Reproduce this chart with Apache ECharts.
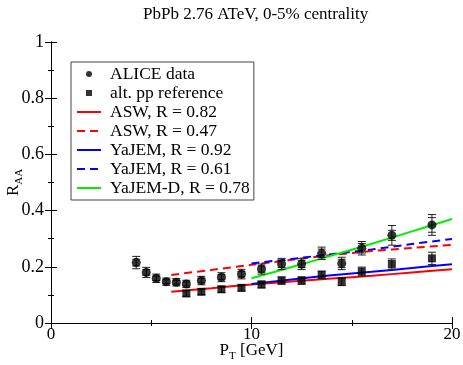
<!DOCTYPE html>
<html>
<head>
<meta charset="utf-8">
<script src="https://cdn.jsdelivr.net/npm/echarts@6/dist/echarts.min.js"></script>
<style>
    html, body { margin: 0; padding: 0; background: #fff; }
    #chart { width: 463px; height: 365px; }
</style>
</head>
<body>
<div id="chart"></div>
<script>
// ALICE data points (pT, R_AA, total error, stat error)
let aliceX = [4.25, 4.75, 5.25, 5.75, 6.25, 6.75, 7.5, 8.5, 9.5, 10.5, 11.5, 12.5, 13.5, 14.5, 15.5, 17, 19]
let aliceY = [0.215, 0.180, 0.159, 0.147, 0.145, 0.139, 0.151, 0.163, 0.174, 0.192, 0.210, 0.210, 0.248, 0.212, 0.266, 0.312, 0.349]
let aliceErr = [0.022, 0.018, 0.015, 0.013, 0.013, 0.013, 0.015, 0.016, 0.017, 0.018, 0.020, 0.020, 0.022, 0.022, 0.024, 0.035, 0.037]
let aliceStat = [0.012, 0.010, 0.008, 0.007, 0.007, 0.007, 0.008, 0.009, 0.010, 0.011, 0.012, 0.013, 0.015, 0.015, 0.017, 0.018, 0.026]

// alternative pp reference
let ppX = [6.75, 7.5, 8.5, 9.5, 10.5, 11.5, 12.5, 13.5, 14.5, 15.5, 17, 19]
let ppY = [0.105, 0.111, 0.120, 0.125, 0.137, 0.151, 0.151, 0.171, 0.147, 0.183, 0.210, 0.230]
let ppErr = [0.010, 0.010, 0.011, 0.011, 0.012, 0.013, 0.013, 0.014, 0.014, 0.016, 0.018, 0.022]

// model curves
let aswX = [6, 8, 10, 12, 14, 16, 18, 20]
let aswSolid = [0.111, 0.124, 0.137, 0.148, 0.158, 0.168, 0.180, 0.191]
let aswDashed = [0.171, 0.189, 0.207, 0.225, 0.242, 0.256, 0.267, 0.278]
let yajemX = [10, 12, 14, 16, 18, 20]
let yajemSolid = [0.139, 0.155, 0.170, 0.182, 0.196, 0.209]
let yajemDashed = [0.212, 0.228, 0.245, 0.262, 0.281, 0.299]
let yajemD = [0.159, 0.199, 0.240, 0.282, 0.326, 0.370]

let xTicks = [0, 10, 20]
let yTicks = [0, 0.2, 0.4, 0.6, 0.8, 1]

const FONT = 'Liberation Serif'

function zip(xs, ys, es, ss) {
    return xs.map((x, i) => {
        let row = [x, ys[i]]
        if (es) row.push(es[i])
        if (ss) row.push(ss[i])
        return row
    })
}

//误差棒
function errRender(params, api) {
    let x = api.value(0), y = api.value(1), e = api.value(2), s = api.value(3)
    let top = api.coord([x, y + e]), bot = api.coord([x, y - e])
    let w = 4
    let st = { stroke: '#222', lineWidth: 1 }
    let children = [
        { type: 'line', shape: { x1: top[0], y1: top[1], x2: bot[0], y2: bot[1] }, style: st },
        { type: 'line', shape: { x1: top[0] - w, y1: top[1], x2: top[0] + w, y2: top[1] }, style: st },
        { type: 'line', shape: { x1: bot[0] - w, y1: bot[1], x2: bot[0] + w, y2: bot[1] }, style: st }
    ]
    if (!isNaN(s)) {
        let t2 = api.coord([x, y + s]), b2 = api.coord([x, y - s])
        children.push(
            { type: 'line', shape: { x1: t2[0] - w, y1: t2[1], x2: t2[0] + w, y2: t2[1] }, style: st },
            { type: 'line', shape: { x1: b2[0] - w, y1: b2[1], x2: b2[0] + w, y2: b2[1] }, style: st }
        )
    }
    return { type: 'group', children: children }
}

function axisBase() {
    return {
        axisLine: { show: true, lineStyle: { color: '#000', width: 1 } },
        axisTick: { show: true, inside: true, length: 6, lineStyle: { color: '#000' } },
        minorTick: { show: true, splitNumber: 2, length: 3, lineStyle: { color: '#000' } },
        splitLine: { show: false },
        minorSplitLine: { show: false }
    }
}

// 下标用 rich text
let subRich = {
    r: { fontFamily: FONT, fontSize: 17, color: '#000', lineHeight: 22 },
    s: { fontFamily: FONT, fontSize: 11, color: '#000', lineHeight: 12, verticalAlign: 'bottom' }
}

let xBottom = Object.assign(axisBase(), {
    type: 'value', min: 0, max: 20, interval: 10, position: 'bottom',
    name: '{r|P}{s|T}{r| [GeV]}', nameLocation: 'middle', nameGap: 17, nameMoveOverlap: false,
    nameTextStyle: { rich: subRich },
    axisLabel: {
        fontFamily: FONT, fontSize: 17, color: '#000', margin: 3,
        formatter: v => xTicks.includes(v) ? String(v) : ''
    }
})
let xTop = Object.assign(axisBase(), {
    type: 'value', min: 0, max: 20, interval: 10, position: 'top',
    axisLabel: { show: false }
})
let yLeft = Object.assign(axisBase(), {
    type: 'value', min: 0, max: 1, interval: 0.2, position: 'left',
    name: '{r|R}{s|AA}', nameLocation: 'middle', nameGap: 26, nameRotate: 90, nameMoveOverlap: false,
    nameTextStyle: { rich: subRich },
    axisLabel: {
        fontFamily: FONT, fontSize: 18, color: '#000', margin: 7,
        formatter: v => yTicks.some(t => Math.abs(t - v) < 1e-6) ? String(+v.toFixed(1)) : ''
    }
})
let yRight = Object.assign(axisBase(), {
    type: 'value', min: 0, max: 1, interval: 0.2, position: 'right',
    axisLabel: { show: false }
})

function curve(name, xs, ys, color, dashed) {
    return {
        name: name, type: 'line', xAxisIndex: 0, yAxisIndex: 0,
        data: zip(xs, ys), symbol: 'none', smooth: 0.3, z: 3,
        lineStyle: { color: color, width: 2, type: dashed ? [8, 5] : 'solid' },
        itemStyle: { color: color }
    }
}

// 图例里的线条不要圆点
function lineItem(name) {
    return { name: name, itemStyle: { opacity: 0 } }
}

let option = {
    animation: false,
    title: {
        text: 'PbPb 2.76 ATeV, 0-5% centrality',
        left: 138, top: 1,
        textStyle: { fontFamily: FONT, fontSize: 17, fontWeight: 'normal', color: '#000' }
    },
    grid: { left: 51, right: 11, top: 42, bottom: 42, outerBoundsMode: 'none', containLabel: false },
    legend: {
        orient: 'vertical', left: 71, top: 62,
        padding: [3, 4, 3, 5],
        itemWidth: 24, itemHeight: 6, itemGap: 1,
        backgroundColor: '#fff', borderColor: '#444', borderWidth: 1, borderRadius: 0,
        textStyle: { fontFamily: FONT, fontSize: 17.5, color: '#000', lineHeight: 16, padding: [0, 0, 0, 4] },
        data: [
            { name: 'ALICE data', icon: 'circle' },
            { name: 'alt. pp reference', icon: 'path://M0,0L10,0L10,10L0,10Z' },
            lineItem('ASW, R = 0.82'), lineItem('ASW, R = 0.47'),
            lineItem('YaJEM, R = 0.92'), lineItem('YaJEM, R = 0.61'),
            lineItem('YaJEM-D, R = 0.78')
        ]
    },
    xAxis: [xBottom, xTop],
    yAxis: [yLeft, yRight],
    series: [
        curve('ASW, R = 0.82', aswX, aswSolid, '#ff0000', false),
        curve('ASW, R = 0.47', aswX, aswDashed, '#ff0000', true),
        curve('YaJEM, R = 0.92', yajemX, yajemSolid, '#0000ff', false),
        curve('YaJEM, R = 0.61', yajemX, yajemDashed, '#0000ff', true),
        curve('YaJEM-D, R = 0.78', yajemX, yajemD, '#00ee00', false),
        {
            name: 'aliceErr', type: 'custom', renderItem: errRender, z: 4,
            data: zip(aliceX, aliceY, aliceErr, aliceStat)
        },
        {
            name: 'ppErr', type: 'custom', renderItem: errRender, z: 4,
            data: zip(ppX, ppY, ppErr)
        },
        {
            name: 'ALICE data', type: 'scatter', symbol: 'circle', symbolSize: 9, z: 5,
            itemStyle: { color: '#000' }, data: zip(aliceX, aliceY)
        },
        {
            name: 'alt. pp reference', type: 'scatter', symbol: 'rect', symbolSize: 8, z: 5,
            itemStyle: { color: '#000' }, data: zip(ppX, ppY)
        }
    ]
}

let chart = echarts.init(document.getElementById('chart'))
chart.setOption(option)
</script>
</body>
</html>
